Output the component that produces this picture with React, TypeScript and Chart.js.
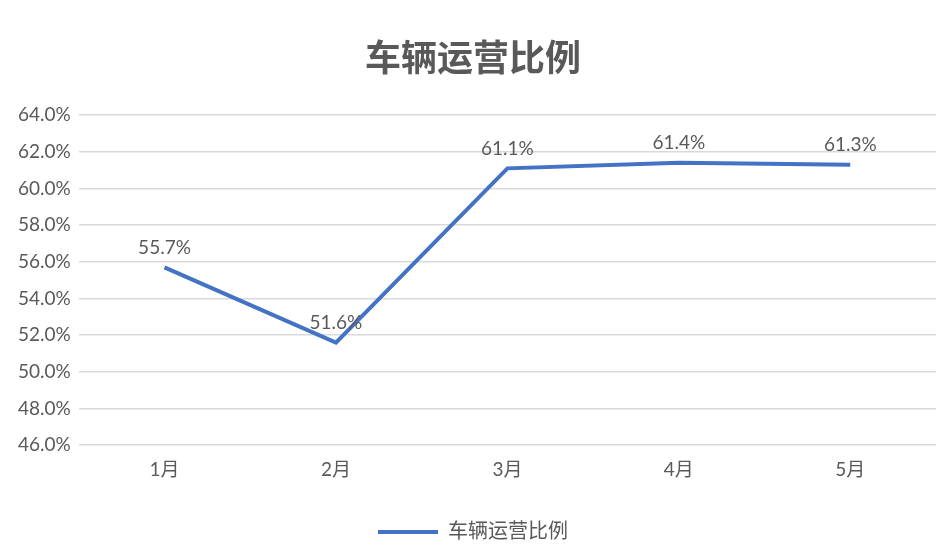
import { useEffect, useRef } from 'react';
import { Chart, registerables } from 'chart.js';

Chart.register(...registerables);

const months = ['1月', '2月', '3月', '4月', '5月'];
const ratio = [55.7, 51.6, 61.1, 61.4, 61.3];
const seriesName = '车辆运营比例';

const FONT = "Lato, 'Noto Sans CJK SC', 'Noto Sans', sans-serif";
const GREY = '#595959';

// draws the value above each point, like the Excel data labels
const valueLabels = {
  id: 'valueLabels',
  afterDatasetsDraw(chart: Chart) {
    const ctx = chart.ctx;
    const meta = chart.getDatasetMeta(0);
    ctx.save();
    ctx.font = `19px ${FONT}`;
    ctx.fillStyle = GREY;
    ctx.textAlign = 'center';
    ctx.textBaseline = 'bottom';
    meta.data.forEach((pt, i) => {
      ctx.fillText(ratio[i].toFixed(1) + '%', pt.x, pt.y - 10);
    });
    ctx.restore();
  },
};

const App = () => {
  const canvasRef = useRef<HTMLCanvasElement | null>(null);
  const chartRef = useRef<Chart | null>(null);

  useEffect(() => {
    document.body.style.margin = '0';
    if (!canvasRef.current) return;
    const ctx = canvasRef.current.getContext('2d');
    if (!ctx) return;
    if (chartRef.current) chartRef.current.destroy();

    chartRef.current = new Chart(ctx, {
      type: 'line',
      data: {
        labels: months,
        datasets: [
          {
            label: seriesName,
            data: ratio,
            borderColor: '#4472C4',
            backgroundColor: '#4472C4',
            borderWidth: 4,
            pointRadius: 0,
            tension: 0,
            fill: false,
          },
        ],
      },
      options: {
        animation: false,
        responsive: false,
        layout: { padding: { left: 10, right: 11, top: 14, bottom: 7 } },
        plugins: {
          title: {
            display: true,
            text: '车辆运营比例',
            color: GREY,
            font: { family: FONT, size: 36, weight: 'bold' },
            padding: { top: 24, bottom: 34 },
          },
          legend: {
            position: 'bottom',
            labels: {
              usePointStyle: true,
              pointStyle: 'line',
              pointStyleWidth: 60,
              color: GREY,
              font: { family: FONT, size: 20 },
              padding: 36,
            },
          },
          tooltip: { enabled: false },
        },
        scales: {
          x: {
            offset: true,
            grid: { display: false },
            border: { display: false },
            ticks: { color: GREY, font: { family: FONT, size: 19 }, padding: 5 },
          },
          y: {
            min: 46,
            max: 64,
            ticks: {
              stepSize: 2,
              color: GREY,
              font: { family: FONT, size: 19 },
              padding: 8,
              callback: (v) => Number(v).toFixed(1) + '%',
            },
            grid: { color: '#D9D9D9', lineWidth: 1.5, drawTicks: false },
            border: { display: false },
          },
        },
      },
      plugins: [valueLabels],
    });

    return () => {
      if (chartRef.current) {
        chartRef.current.destroy();
        chartRef.current = null;
      }
    };
  }, []);

  return (
    <div style={{ width: 947, height: 559, background: '#fff' }}>
      <canvas ref={canvasRef} width={947} height={559} />
    </div>
  );
};

export default App;
